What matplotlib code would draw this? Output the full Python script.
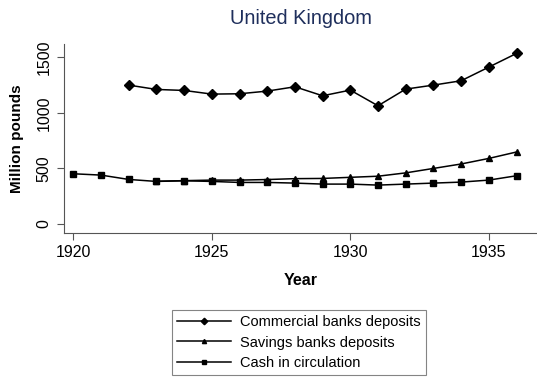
import matplotlib.pyplot as plt

plt.rcParams['font.family'] = ['Liberation Sans', 'DejaVu Sans']

# deposits and currency, million pounds
years_comm = list(range(1922, 1937))
commercial = [1250, 1211, 1202, 1169, 1172, 1196, 1235, 1154, 1205, 1064,
              1214, 1250, 1289, 1412, 1535]

years_sav = list(range(1923, 1937))
savings = [385, 390, 395, 395, 400, 408, 410, 420, 430, 460, 500, 540, 590, 648]

years_cash = list(range(1920, 1937))
cash = [452, 440, 401, 383, 389, 383, 374, 374, 368, 359, 359, 350, 359, 368,
        377, 395, 434]

fig = plt.figure(figsize=(5.37, 3.77), dpi=100)
ax = fig.add_axes([0.119, 0.382, 0.881, 0.501])

ax.plot(years_comm, commercial, color='black', lw=1.1, marker='D', ms=5.5,
        label='Commercial banks deposits')
ax.plot(years_sav, savings, color='black', lw=1.1, marker='^', ms=5,
        label='Savings banks deposits')
ax.plot(years_cash, cash, color='black', lw=1.1, marker='s', ms=4.5,
        label='Cash in circulation')

ax.set_xlim(1919.66, 1936.74)
ax.set_ylim(-81, 1619)
ax.set_xticks([1920, 1925, 1930, 1935])
ax.set_yticks([0, 500, 1000, 1500])
for lab in ax.get_yticklabels():
    lab.set_rotation(90)
    lab.set_va('center')
ax.tick_params(direction='out', length=5, width=0.8, color='#555555',
               labelsize=11.5, labelcolor='black', pad=4)
for s in ['top', 'right']:
    ax.spines[s].set_visible(False)
for s in ['left', 'bottom']:
    ax.spines[s].set_color('#555555')
    ax.spines[s].set_linewidth(0.8)

ax.set_xlabel('Year', fontsize=11.5, fontweight='bold', labelpad=9)
ax.set_ylabel('Million pounds', fontsize=11, fontweight='bold', labelpad=9)
fig.text(0.561, 0.952, 'United Kingdom', ha='center', va='center',
         fontsize=14.4, color='#1f2f5c')

leg = fig.legend(loc='upper left', bbox_to_anchor=(0.320, 0.178), fontsize=10.5,
                 frameon=True, fancybox=False, edgecolor='#666666',
                 handlelength=3.7, handletextpad=0.6, labelspacing=0.42,
                 borderpad=0.38, borderaxespad=0, markerscale=0.6)
leg.get_frame().set_linewidth(0.8)

fig.savefig('out.png', dpi=100)
